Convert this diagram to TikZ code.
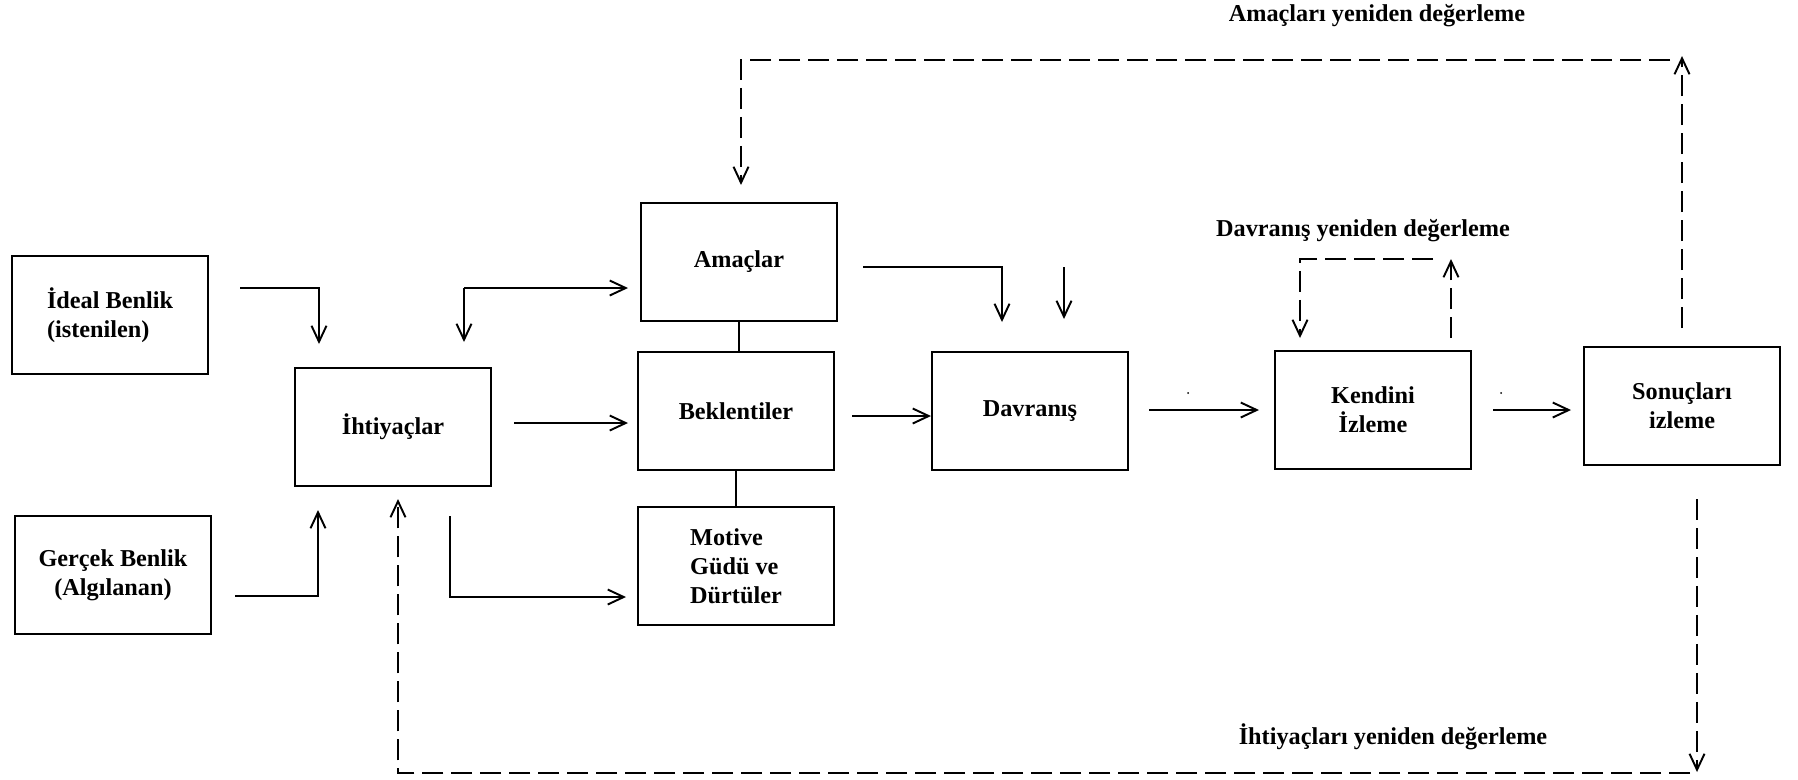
\documentclass[tikz,border=0pt]{standalone}
\usepackage{fontspec}
\setmainfont{Liberation Serif}
\usetikzlibrary{arrows.meta}

\begin{document}
\begin{tikzpicture}[x=0.02cm, y=-0.02cm,
    box/.style={draw, line width=1.2pt, minimum width=3.92cm, minimum height=2.36cm,
        inner sep=0pt, align=left, font=\bfseries\fontsize{13.8}{16.5}\selectfont},
    lbl/.style={font=\bfseries\fontsize{13.8}{16.5}\selectfont, inner sep=0pt},
    arr/.style={line width=1.1pt, -{Straight Barb[length=0.32cm, width=0.3cm]}},
    plain/.style={line width=1.1pt},
    dashline/.style={line width=1.1pt, dash pattern=on 0.42cm off 0.16cm}]

    \useasboundingbox (0,0) rectangle (1798,779);

    % ==========================================
    % 1. BOXES
    % ==========================================
    \node[box] (ideal)    at (110,315)  {\.{I}deal Benlik\\(istenilen)};
    \node[box, align=center] (gercek) at (113,575) {Gerçek Benlik\\(Algılanan)};
    \node[box] (ihtiyac)  at (393,427)  {\.{I}htiyaçlar};
    \node[box] (amac)     at (739,262)  {Amaçlar};
    \node[box] (beklenti) at (736,411)  {Beklentiler};
    \node[box] (motive)   at (736,566)  {Motive\\Güdü ve\\Dürtüler};
    \node[box] (davranis) at (1030,411) {Davranış};
    \node[box, align=center] (kendini) at (1373,410) {Kendini\\\.{I}zleme};
    \node[box, align=center] (sonuc)   at (1682,406) {Sonuçları\\izleme};

    % ==========================================
    % 2. COORDINATES FOR CONNECTORS
    % ==========================================
    % Inputs to Ihtiyaclar
    \coordinate (IdealOut)  at (240,288);
    \coordinate (IdealIn)   at (319,344);
    \coordinate (GercekOut) at (235,596);
    \coordinate (GercekIn)  at (318,510);

    % Fork above Ihtiyaclar
    \coordinate (ForkDown)  at (464,342);
    \coordinate (ForkRight) at (628,288);

    % Ihtiyaclar outputs
    \coordinate (IhtOutA)   at (514,423);
    \coordinate (BekIn)     at (628,423);
    \coordinate (IhtOutB)   at (450,516);
    \coordinate (MotIn)     at (626,597);

    % Into Davranis
    \coordinate (AmacOut)   at (863,267);
    \coordinate (DavInA)    at (1002,322);
    \coordinate (DavTopA)   at (1064,267);
    \coordinate (DavTopB)   at (1064,319);
    \coordinate (BekOut)    at (852,416);
    \coordinate (DavIn)     at (931,416);

    % Along the row
    \coordinate (DavOut)    at (1149,410);
    \coordinate (KenIn)     at (1259,410);
    \coordinate (KenOut)    at (1493,410);
    \coordinate (SonIn)     at (1571,410);

    % Davranis re-evaluation loop
    \coordinate (DL1) at (1451,338);
    \coordinate (DL2) at (1451,259);
    \coordinate (DL3) at (1433,259);
    \coordinate (DL4) at (1300,259);
    \coordinate (DL5) at (1300,338);

    % Amaclar re-evaluation loop
    \coordinate (AL1) at (1682,328);
    \coordinate (AL2) at (1682,56);
    \coordinate (AL3) at (1670,60);
    \coordinate (AL4) at (741,60);
    \coordinate (AL5) at (741,185);

    % Ihtiyaclar re-evaluation loop
    \coordinate (IL1) at (1697,499);
    \coordinate (IL2) at (1697,772);
    \coordinate (IL3) at (1690,773);
    \coordinate (IL4) at (398,773);
    \coordinate (IL5) at (398,499);

    % ==========================================
    % 3. SOLID CONNECTORS
    % ==========================================
    \draw[arr] (IdealOut) -| (IdealIn);
    \draw[arr] (GercekOut) -| (GercekIn);
    \draw[arr] (ForkDown |- ForkRight) -- (ForkRight);
    \draw[arr] (ForkDown |- ForkRight) -- (ForkDown);
    \draw[arr] (IhtOutA) -- (BekIn);
    \draw[arr] (IhtOutB) |- (MotIn);
    \draw[plain] (amac.south) -- (amac.south |- beklenti.north);
    \draw[plain] (beklenti.south) -- (motive.north);
    \draw[arr] (AmacOut) -| (DavInA);
    \draw[arr] (DavTopA) -- (DavTopB);
    \draw[arr] (BekOut) -- (DavIn);
    \draw[arr] (DavOut) -- (KenIn);
    \draw[arr] (KenOut) -- (SonIn);

    % stray dots above the arrows
    \fill (1188,393) circle (1);
    \fill (1501,393) circle (1);

    % ==========================================
    % 4. DASHED FEEDBACK LOOPS & LABELS
    % ==========================================
    \draw[arr, dashline] (DL1) -- (DL2);
    \draw[arr, dashline] (DL3) -- (DL4) -- (DL5);
    \node[lbl] (davlbl) at (1363,231) {Davranış yeniden değerleme};

    \draw[arr, dashline] (AL1) -- (AL2);
    \draw[arr, dashline] (AL3) -- (AL4) -- (AL5);
    \node[lbl] (amaclbl) at (1377,16) {Amaçları yeniden değerleme};

    \draw[arr, dashline] (IL1) -- (IL2);
    \draw[arr, dashline] (IL3) -- (IL4) -- (IL5);
    \node[lbl] (ihtlbl) at (1393,737) {\.{I}htiyaçları yeniden değerleme};

\end{tikzpicture}
\end{document}
